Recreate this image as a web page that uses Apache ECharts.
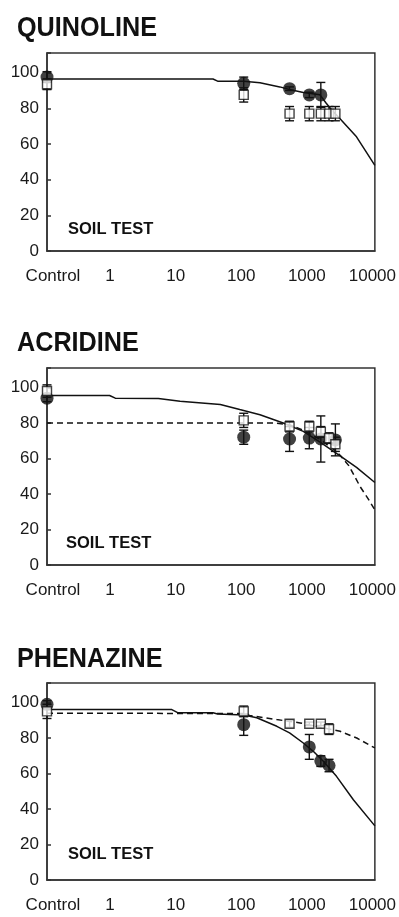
<!DOCTYPE html>
<html>
<head>
<meta charset="utf-8">
<script src="https://cdn.jsdelivr.net/npm/echarts@6/dist/echarts.min.js"></script>
<style>
  html, body { margin: 0; padding: 0; background: #fff; }
  #chart { width: 399px; height: 917px; }
</style>
</head>
<body>
<div id="chart"></div>
<script>
// Axis tick labels (x axis is logarithmic; "Control" sits at the 0.1 position)
const xTickLabels = ['Control', '1', '10', '100', '1000', '10000'];
const yTickValues = [0, 20, 40, 60, 80, 100];
const panelTitles = ['QUINOLINE', 'ACRIDINE', 'PHENAZINE'];
const panelNote = 'SOIL TEST';

// QUINOLINE
const quinCircleConc = [0.1, 100, 500, 1000, 1500];
const quinCircleVal  = [97.5, 94, 91, 87.5, 87.5];
const quinCircleErr  = [3, 3.5, 1, 1.5, 7];
const quinSquareConc = [0.1, 100, 500, 1000, 1500, 2000, 2500];
const quinSquareVal  = [93.5, 87.5, 77, 77, 77, 77, 77];
const quinSquareErr  = [3, 4, 4, 4, 4, 4, 4];
const quinSolidConc  = [0.1, 34, 40, 100, 177, 355, 500, 810, 1450, 1800, 2200, 2760, 5250, 10000];
const quinSolidVal   = [96.4, 96.4, 95.2, 95.2, 94.3, 92, 90.5, 88.9, 87.6, 83, 79, 75.2, 64, 48];

// ACRIDINE
const acrCircleConc = [0.1, 100, 500, 1000, 1500, 2500];
const acrCircleVal  = [94, 72, 71, 71.5, 71, 70.5];
const acrCircleErr  = [2, 4, 7, 6, 13, 9];
const acrSquareConc = [0.1, 100, 500, 1000, 1500, 2000, 2500];
const acrSquareVal  = [98, 81.5, 78, 78, 75, 71.5, 68];
const acrSquareErr  = [3.5, 4, 3, 3, 3, 3, 4];
const acrSolidConc  = [0.1, 0.9, 1.1, 5, 10.7, 44, 87, 177, 400, 810, 1500, 2950, 5250, 10000];
const acrSolidVal   = [95.5, 95.5, 94, 93.8, 92.3, 90.4, 87.6, 84.7, 80, 75.3, 69, 61.5, 55, 46.5];
const acrDashConc   = [0.1, 300, 500, 800, 1000, 1500, 2000, 2500, 3000, 4000, 6000, 8000, 10000];
const acrDashVal    = [80, 80, 79, 76, 74, 70.5, 67, 64.5, 61.5, 56, 44, 37, 31];

// PHENAZINE
const phenCircleConc = [0.1, 100, 1000, 1500, 2000];
const phenCircleVal  = [99, 87.5, 75, 67, 64.5];
const phenCircleErr  = [2, 6, 7, 3, 3.5];
const phenSquareConc = [0.1, 100, 500, 1000, 1500, 2000];
const phenSquareVal  = [95, 95, 88, 88, 88, 85];
const phenSquareErr  = [4, 3, 2, 1, 1, 3];
const phenSolidConc  = [0.1, 8, 10, 34, 40, 100, 158, 320, 500, 810, 1150, 1650, 2600, 4700, 10000];
const phenSolidVal   = [96, 96, 94.2, 94.2, 93.5, 93, 91.4, 86.6, 82.9, 77.2, 72.5, 66.8, 58.4, 45.2, 30.5];
const phenDashConc   = [0.1, 100, 123, 318, 725, 2950, 5300, 10000];
const phenDashVal    = [94, 93.8, 92.7, 90.4, 88.5, 83.8, 80, 74.4];

const panels = [
  { circles: [quinCircleConc, quinCircleVal, quinCircleErr], squares: [quinSquareConc, quinSquareVal, quinSquareErr],
    solid: [quinSolidConc, quinSolidVal], dashed: null },
  { circles: [acrCircleConc, acrCircleVal, acrCircleErr], squares: [acrSquareConc, acrSquareVal, acrSquareErr],
    solid: [acrSolidConc, acrSolidVal], dashed: [acrDashConc, acrDashVal] },
  { circles: [phenCircleConc, phenCircleVal, phenCircleErr], squares: [phenSquareConc, phenSquareVal, phenSquareErr],
    solid: [phenSolidConc, phenSolidVal], dashed: [phenDashConc, phenDashVal] }
];

// Layout of the three stacked plot boxes
const gridTops = [53, 368, 683];
const gridHeights = [198, 197, 197];
const titleMidY = [28.5, 343.5, 659];
const noteMidY = [229, 543, 854];
const noteLeft = [68, 66, 68];

const ink = '#111';
const frame = '#333';
const labelFont = '"Liberation Sans", Arial, sans-serif';

const zip2 = (a, b) => a.map((v, i) => [v, b[i]]);
const zip3 = (a, b, c) => a.map((v, i) => [v, b[i], c[i]]);

function errorBars(params, api) {
  const x = api.value(0), y = api.value(1), e = api.value(2);
  const hi = api.coord([x, y + e]);
  const lo = api.coord([x, y - e]);
  const w = 4.5;
  const st = { stroke: ink, lineWidth: 1.4 };
  return {
    type: 'group',
    children: [
      { type: 'line', shape: { x1: hi[0], y1: hi[1], x2: lo[0], y2: lo[1] }, style: st },
      { type: 'line', shape: { x1: hi[0] - w, y1: hi[1], x2: hi[0] + w, y2: hi[1] }, style: st },
      { type: 'line', shape: { x1: lo[0] - w, y1: lo[1], x2: lo[0] + w, y2: lo[1] }, style: st }
    ]
  };
}

const grid = [], xAxis = [], yAxis = [], series = [], graphic = [];

panels.forEach((p, i) => {
  grid.push({
    left: 47, width: 328, top: gridTops[i], height: gridHeights[i],
    show: true, borderColor: frame, borderWidth: 1.5, backgroundColor: 'transparent'
  });
  xAxis.push({
    type: 'log', logBase: 10, min: 0.1, max: 10000, gridIndex: i,
    axisLine: { show: true, lineStyle: { color: frame, width: 1.5 } },
    axisTick: { show: false },
    splitLine: { show: false },
    minorTick: { show: false },
    axisLabel: {
      margin: 17,
      color: '#1a1a1a',
      fontFamily: labelFont,
      fontSize: 17,
      formatter: function (v) {
        const idx = Math.round(Math.log10(v)) + 1;
        const t = xTickLabels[idx];
        return idx === 0 ? '{c|' + t + '}' : '{n|' + t + '}';
      },
      rich: {
        c: { fontFamily: labelFont, fontSize: 17, color: '#1a1a1a', padding: [0, 0, 0, 12] },
        n: { fontFamily: labelFont, fontSize: 17, color: '#1a1a1a', padding: [0, 5, 0, 0] }
      }
    }
  });
  yAxis.push({
    type: 'value', min: 0, max: 111, interval: 20, gridIndex: i,
    axisLine: { show: true, lineStyle: { color: frame, width: 1.5 } },
    axisTick: { show: true, inside: true, length: 4, lineStyle: { color: frame, width: 1.5 } },
    splitLine: { show: false },
    axisLabel: {
      margin: 8,
      color: '#1a1a1a',
      fontFamily: labelFont,
      fontSize: 17,
      formatter: v => (yTickValues.indexOf(v) >= 0 ? String(v) : '')
    }
  });

  series.push({
    type: 'line', xAxisIndex: i, yAxisIndex: i,
    data: zip2(p.solid[0], p.solid[1]),
    showSymbol: false, symbol: 'none', smooth: false,
    lineStyle: { color: ink, width: 1.5 }, z: 2, silent: true
  });
  if (p.dashed) {
    series.push({
      type: 'line', xAxisIndex: i, yAxisIndex: i,
      data: zip2(p.dashed[0], p.dashed[1]),
      showSymbol: false, symbol: 'none', smooth: false,
      lineStyle: { color: ink, width: 1.5, type: [6, 4] }, z: 2, silent: true
    });
  }
  series.push({
    type: 'custom', xAxisIndex: i, yAxisIndex: i,
    data: zip3(p.circles[0], p.circles[1], p.circles[2]),
    encode: { x: 0, y: 1 }, renderItem: errorBars, z: 3, silent: true
  });
  series.push({
    type: 'custom', xAxisIndex: i, yAxisIndex: i,
    data: zip3(p.squares[0], p.squares[1], p.squares[2]),
    encode: { x: 0, y: 1 }, renderItem: errorBars, z: 3, silent: true
  });
  series.push({
    type: 'scatter', xAxisIndex: i, yAxisIndex: i,
    data: zip2(p.circles[0], p.circles[1]),
    symbol: 'circle', symbolSize: 13, clip: false,
    itemStyle: { color: ink }, z: 4, silent: true
  });
  series.push({
    type: 'scatter', xAxisIndex: i, yAxisIndex: i,
    data: zip2(p.squares[0], p.squares[1]),
    symbol: 'rect', symbolSize: 9, clip: false,
    itemStyle: { color: '#fff', borderColor: ink, borderWidth: 1.4 }, z: 5, silent: true
  });

  graphic.push({
    type: 'text', x: 17, y: titleMidY[i], scaleX: 0.9,
    style: { text: panelTitles[i], font: 'bold 28px "Liberation Sans", Arial, sans-serif',
             fill: ink, align: 'left', verticalAlign: 'middle' }
  });
  graphic.push({
    type: 'text', x: noteLeft[i], y: noteMidY[i],
    style: { text: panelNote, font: 'bold 16.5px "Liberation Sans", Arial, sans-serif',
             fill: ink, align: 'left', verticalAlign: 'middle' }
  });
});

const chart = echarts.init(document.getElementById('chart'), null, { renderer: 'canvas' });
chart.setOption({
  animation: false,
  backgroundColor: '#fff',
  grid, xAxis, yAxis, series, graphic
});
</script>
</body>
</html>
